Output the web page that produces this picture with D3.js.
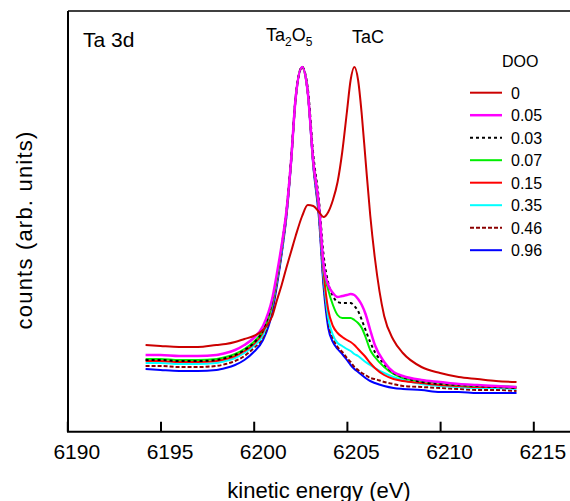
<!DOCTYPE html>
<html>
<head>
<meta charset="utf-8">
<script src="https://cdn.jsdelivr.net/npm/d3@7/dist/d3.min.js"></script>
<style>
  html, body { margin: 0; padding: 0; background: #fff; }
  svg { display: block; font-family: "Liberation Sans", Arial, sans-serif; }
</style>
</head>
<body>
<svg id="chart" width="570" height="501"></svg>
<script>
// ---------- data ----------
const energies = [6194.2, 6195, 6196, 6197, 6198, 6198.5, 6199, 6199.5, 6200, 6200.5,
  6201, 6201.25, 6201.5, 6201.75, 6202, 6202.25, 6202.6, 6202.9, 6203.2, 6203.5,
  6203.75, 6204, 6204.25, 6204.5, 6204.75, 6205, 6205.2, 6205.4, 6205.6, 6205.8,
  6206, 6206.25, 6206.5, 6207, 6207.5, 6208, 6209, 6210, 6211, 6212, 6213, 6214.1];

const doo0    = [86,85,84,84,86,87,89,92,95,101, 115,131,146,163,179,195,215,226,225,219, 214,219,231,249,279,319,351,364,351,316, 271,216,173,115,91,78,64,58,54,52, 50,49];
const doo005  = [76,76,75,75,76,78,81,86,93,105, 133,158,186,219,269,333,364,339,269,226, 166,146,138,134,135,136,137,136,132,126, 117,101,86,69,59,55,51,49,47,46, 45,44];
const doo003  = [71,71,70,70,71,73,76,81,88,101, 131,156,185,219,271,334,364,343,276,231, 176,148,135,129,128,128,128,125,120,111, 101,89,79,67,58,54,49,47,46,45, 44,43];
const doo007  = [72,72,71,71,72,74,77,82,89,101, 129,154,184,218,269,333,364,339,269,224, 163,141,126,116,113,113,113,111,108,103, 94,81,74,64,57,53,50,48,46,45, 45,44];
const doo015  = [70,70,69,69,70,72,75,80,87,99, 128,153,183,217,268,333,364,339,268,221, 159,121,105,98,94,91,89,86,82,78, 74,68,63,56,52,50,48,46,45,44, 44,43];
const doo035  = [68,68,67,67,68,70,73,78,85,96, 126,151,181,216,268,333,364,339,267,219, 154,113,96,88,85,82,80,77,75,72, 69,66,63,58,54,51,47,45,44,43, 43,42];
const doo046  = [65,65,64,64,65,67,70,75,83,94, 123,149,179,215,268,332,364,338,266,216, 149,109,93,84,79,73,69,64,61,58, 56,53,52,49,47,45,44,43,42,41, 41,40];
const doo096  = [62,61,60,60,61,63,66,71,79,91, 119,146,177,213,266,332,364,338,264,213, 144,103,89,82,77,71,66,62,59,56, 53,50,48,45,43,42,41,39,39,38, 38,38];

const seriesLabels = ["0", "0.05", "0.03", "0.07", "0.15", "0.35", "0.46", "0.96"];
const seriesValues = [doo0, doo005, doo003, doo007, doo015, doo035, doo046, doo096];
const xTickValues = [6190, 6195, 6200, 6205, 6210, 6215];

// ---------- styles ----------
const styles = [
  { color: "#cc0000", dash: null,  width: 2 },
  { color: "#ff00ff", dash: null,  width: 2.5 },
  { color: "#000000", dash: "3,3", width: 2 },
  { color: "#00ee00", dash: null,  width: 2 },
  { color: "#ff0000", dash: null,  width: 2 },
  { color: "#00ffff", dash: null,  width: 2 },
  { color: "#8b0000", dash: "4,2", width: 2 },
  { color: "#0000ff", dash: null,  width: 2 }
];

const svg = d3.select("#chart");
const pLeft = 68, pRight = 570, pTop = 11, pBottom = 431;

const x = d3.scaleLinear().domain([6190, 6215]).range([67.3, 533.3]);
const y = d3.scaleLinear().domain([0, 420]).range([pBottom, pTop]);

// ---------- curves ----------
const line = d3.line()
  .x(d => x(d[0]))
  .y(d => y(d[1]))
  .curve(d3.curveMonotoneX);

const drawOrder = [7, 6, 5, 4, 3, 2, 1, 0];
drawOrder.forEach(i => {
  const pts = energies.map((e, k) => [e, seriesValues[i][k]]);
  svg.append("path")
    .datum(pts)
    .attr("d", line)
    .attr("fill", "none")
    .attr("stroke", styles[i].color)
    .attr("stroke-width", styles[i].width)
    .attr("stroke-linejoin", "round")
    .attr("stroke-dasharray", styles[i].dash);
});

// ---------- frame & axis ----------
svg.append("line").attr("x1", pLeft).attr("x2", pLeft).attr("y1", pTop).attr("y2", pBottom + 1)
  .attr("stroke", "#000").attr("stroke-width", 2);
svg.append("line").attr("x1", pLeft).attr("x2", pRight).attr("y1", pTop).attr("y2", pTop)
  .attr("stroke", "#000").attr("stroke-width", 1.5);
svg.append("line").attr("x1", pLeft - 1).attr("x2", pRight).attr("y1", pBottom + 0.7).attr("y2", pBottom + 0.7)
  .attr("stroke", "#000").attr("stroke-width", 2);

const xAxis = d3.axisBottom(x)
  .tickValues(xTickValues)
  .tickFormat(d3.format("d"))
  .tickSizeInner(-10)
  .tickSizeOuter(0)
  .tickPadding(12);

const gx = svg.append("g").attr("transform", `translate(0,${pBottom + 0.7})`).call(xAxis);
gx.select(".domain").remove();
gx.selectAll(".tick line").attr("stroke", "#000").attr("stroke-width", 2);
gx.selectAll(".tick text")
  .attr("font-size", 21)
  .attr("font-family", "Liberation Sans, Arial, sans-serif")
  .attr("fill", "#000")
  .attr("dx", 9);

// ---------- axis titles ----------
svg.append("text")
  .attr("x", 319).attr("y", 498)
  .attr("text-anchor", "middle")
  .attr("font-size", 22)
  .text("kinetic energy (eV)");

svg.append("text")
  .attr("transform", "translate(32,230) rotate(-90)")
  .attr("text-anchor", "middle")
  .attr("font-size", 22)
  .attr("letter-spacing", 1.2)
  .text("counts (arb. units)");

// ---------- annotations ----------
svg.append("text").attr("x", 83).attr("y", 47).attr("font-size", 21).text("Ta 3d");

const t1 = svg.append("text").attr("x", 266).attr("y", 41).attr("font-size", 18);
t1.append("tspan").text("Ta");
t1.append("tspan").attr("font-size", 12).attr("dy", 5).text("2");
t1.append("tspan").attr("dy", -5).text("O");
t1.append("tspan").attr("font-size", 12).attr("dy", 5).text("5");

svg.append("text").attr("x", 352).attr("y", 43).attr("font-size", 18).text("TaC");

// ---------- legend ----------
svg.append("text").attr("x", 502).attr("y", 67).attr("font-size", 16).text("DOO");
const legendTop = 92.7, legendStep = 22.5;
seriesLabels.forEach((lab, i) => {
  const cy = legendTop + i * legendStep;
  svg.append("line")
    .attr("x1", 470).attr("x2", 502).attr("y1", cy).attr("y2", cy)
    .attr("stroke", styles[i].color)
    .attr("stroke-width", styles[i].width)
    .attr("stroke-dasharray", styles[i].dash);
  svg.append("text")
    .attr("x", 511).attr("y", cy + 5.8)
    .attr("font-size", 16)
    .text(lab);
});
</script>
</body>
</html>
